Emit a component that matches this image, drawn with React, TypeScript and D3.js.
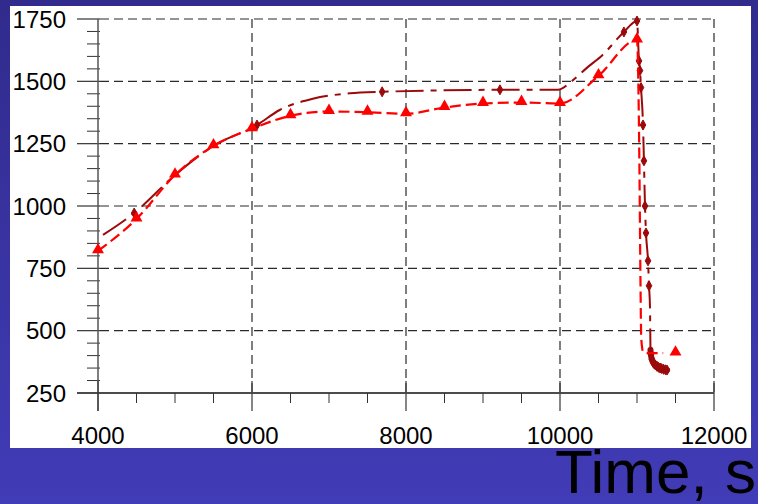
import React from "react";
import * as d3 from "d3";

// Red series (triangles) – marker points
const redMarkT = [4000, 4500, 5000, 5500, 6000, 6500, 7000, 7500, 8000, 8500, 9000, 9500, 10000, 10500, 11000, 11500];
const redMarkV = [820, 948, 1124, 1241, 1310, 1362, 1379, 1376, 1370, 1395, 1411, 1415, 1411, 1522, 1666, 410];
// Red series – unmarked points of the sharp drop
const redDropT = [11030, 11045, 11055, 11080, 11150, 11340];
const redDropV = [1200, 700, 470, 415, 410, 410];

// Dark red series (diamonds) – line points
const darkLineT = [4065, 4470, 5000, 5500, 6065, 6360, 6790, 7270, 7690, 9220, 9974, 10150, 10360, 10550, 10830, 11000, 11026, 11039, 11052, 11078, 11090, 11104, 11117, 11143, 11156, 11169, 11175, 11185, 11200, 11230, 11270, 11320, 11390];
const darkLineV = [884, 972, 1124, 1241, 1325, 1385, 1430, 1452, 1458, 1466, 1466, 1500, 1557, 1605, 1698, 1742, 1582, 1543, 1475, 1325, 1181, 1000, 892, 780, 680, 591, 423, 395, 378, 365, 355, 348, 342];
// Dark red series – diamond markers
const darkMarkT = [4470, 6065, 7690, 9220, 10830, 11000, 11026, 11039, 11052, 11078, 11090, 11104, 11117, 11143, 11156, 11180, 11195, 11210, 11225, 11240, 11260, 11280, 11300, 11320, 11345, 11370, 11390];
const darkMarkV = [972, 1325, 1458, 1466, 1698, 1742, 1582, 1543, 1475, 1325, 1181, 1000, 892, 780, 680, 405, 385, 372, 366, 362, 357, 353, 350, 348, 345, 343, 342];

const xTicks = [4000, 6000, 8000, 10000, 12000];
const xMinor = [4500, 5000, 5500, 6500, 7000, 7500, 8500, 9000, 9500, 10500, 11000, 11500];
const yTicks = [250, 500, 750, 1000, 1250, 1500, 1750];
const yMinor = d3.range(300, 1750, 50).filter((v) => v % 250 !== 0);
const xLabel = "Time, s";

export default function App() {
  const x = d3.scaleLinear().domain([4000, 12000]).range([98, 714]);
  const y = d3.scaleLinear().domain([250, 1750]).range([393, 19]);

  const redPts: [number, number][] = redMarkT
    .slice(0, -1)
    .map((t, i) => [t, redMarkV[i]] as [number, number])
    .concat(redDropT.map((t, i) => [t, redDropV[i]] as [number, number]))
    .sort((a, b) => a[0] - b[0]);
  const darkPts: [number, number][] = darkLineT.map((t, i) => [t, darkLineV[i]]);
  const tailPts = darkPts.filter((d) => d[0] >= 11175);

  const line = d3
    .line<[number, number]>()
    .x((d) => x(d[0]))
    .y((d) => y(d[1]))
    .curve(d3.curveMonotoneX);

  const tri = d3.symbol().type(d3.symbolTriangle).size(62)() as string;

  return (
    <svg width={758} height={504} style={{ position: "absolute", left: 0, top: 0 }}>
      <defs>
        <linearGradient id="bg" x1="0" y1="0" x2="0" y2="1">
          <stop offset="0" stopColor="#302b8c" />
          <stop offset="1" stopColor="#413cb7" />
        </linearGradient>
      </defs>
      <rect x={0} y={0} width={758} height={504} fill="url(#bg)" />
      <rect x={10} y={6} width={741} height={442} fill="#ffffff" />

      {/* horizontal grid */}
      {yTicks.filter((v) => v !== 250).map((v) => (
        <g key={"hy" + v}>
          <line x1={77} x2={100} y1={y(v)} y2={y(v)} stroke="#333" strokeWidth={1.2} />
          <line x1={100} x2={714} y1={y(v)} y2={y(v)} stroke="#2a2a2a" strokeWidth={1.2} strokeDasharray="9,5" />
        </g>
      ))}
      {/* vertical grid */}
      {xTicks.filter((v) => v !== 4000).map((v) => (
        <line key={"vx" + v} x1={x(v)} x2={x(v)} y1={19} y2={393} stroke="#2a2a2a" strokeWidth={1.2} strokeDasharray="9,5" />
      ))}
      {/* y minor ticks */}
      {yMinor.map((v) => (
        <line key={"ym" + v} x1={87} x2={100} y1={y(v)} y2={y(v)} stroke="#333" strokeWidth={1} />
      ))}
      {/* axes */}
      <line x1={98} x2={98} y1={19} y2={411} stroke="#555" strokeWidth={1.5} />
      <line x1={77} x2={714} y1={393} y2={393} stroke="#111" strokeWidth={1.3} />
      {xTicks.map((v) => (
        <line key={"xt" + v} x1={x(v)} x2={x(v)} y1={381} y2={411} stroke="#444" strokeWidth={1.3} />
      ))}
      {xMinor.map((v) => (
        <line key={"xm" + v} x1={x(v)} x2={x(v)} y1={393} y2={403} stroke="#333" strokeWidth={1} />
      ))}

      {/* tick labels */}
      {yTicks.map((v) => (
        <text key={"yl" + v} x={66} y={y(v) + 8.5} textAnchor="end" fontFamily="Liberation Sans, Arial, sans-serif" fontSize={24} fill="#000">
          {v}
        </text>
      ))}
      {xTicks.map((v) => (
        <text key={"xl" + v} x={x(v)} y={444} textAnchor="middle" fontFamily="Liberation Sans, Arial, sans-serif" fontSize={24} fill="#000">
          {v}
        </text>
      ))}

      {/* dark red series */}
      <path d={line(darkPts) as string} fill="none" stroke="#9b0a0a" strokeWidth={2} strokeDasharray="28,7,6,7" />
      <path d={line(tailPts) as string} fill="none" stroke="#9b0a0a" strokeWidth={6} strokeLinecap="round" />
      {darkMarkT.map((t, i) => (
        <path
          key={"dm" + i}
          transform={`translate(${x(t)},${y(darkMarkV[i])})`}
          d="M0,-5 L2.8,0 L0,5 L-2.8,0 Z"
          fill="#9b0a0a"
          stroke="#9b0a0a"
          strokeWidth={1}
        />
      ))}

      {/* red series */}
      <path d={line(redPts) as string} fill="none" stroke="#ff0000" strokeWidth={2.2} strokeDasharray="11,5" />
      {redMarkT.map((t, i) => (
        <path key={"rm" + i} transform={`translate(${x(t)},${y(redMarkV[i]) - 1})`} d={tri} fill="#ff0000" />
      ))}

      <text x={555} y={493} fontFamily="Liberation Sans, Arial, sans-serif" fontSize={62} fill="#000">
        {xLabel}
      </text>
    </svg>
  );
}
